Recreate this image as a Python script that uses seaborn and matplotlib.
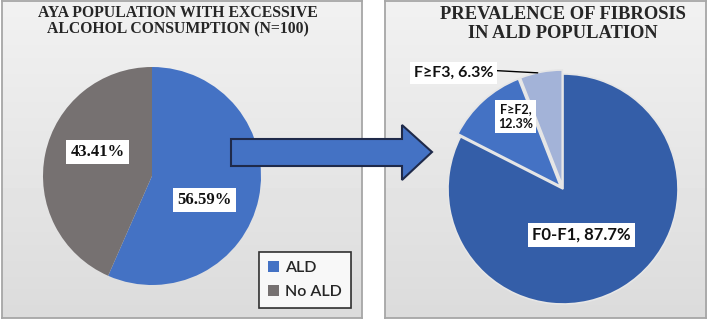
import numpy as np
import matplotlib
matplotlib.use("Agg")
import matplotlib.pyplot as plt
import seaborn as sns
from matplotlib.patches import Polygon

# data
aya_labels = ["ALD", "No ALD"]
aya_pct = [56.59, 43.41]
fib_labels = ["F0-F1", "F\u2265F2", "F\u2265F3"]
fib_pct = [87.7, 12.3, 6.3]

W, H = 708, 320
sns.set_theme(style="white")
plt.rcParams["font.family"] = ["Lato", "DejaVu Sans"]

aya_colors = ["#4472C4", "#767171"]
fib_colors = ["#345EA8", "#4472C4", "#A3B3D8"]
serif = ["Liberation Serif", "DejaVu Serif"]
sans = ["Lato", "DejaVu Sans"]


def px_axes(fig, x0, y0, x1, y1):
    """axes from pixel box (top-left origin)"""
    return fig.add_axes([x0 / W, 1 - y1 / H, (x1 - x0) / W, (y1 - y0) / H])


def panel(fig, x0, y0, x1, y1):
    ax = px_axes(fig, x0, y0, x1, y1)
    grad = np.linspace(0.945, 0.86, 100).reshape(-1, 1)
    ax.imshow(grad, cmap="gray", vmin=0, vmax=1, aspect="auto",
              extent=(0, 1, 0, 1))
    ax.set_xticks([])
    ax.set_yticks([])
    for s in ax.spines.values():
        s.set_color("#A6A6A6")
        s.set_linewidth(1.3)
    return ax


def pie_axes(fig, cx, cy, r, pad=1.3):
    ax = px_axes(fig, cx - r * pad, cy - r * pad, cx + r * pad, cy + r * pad)
    return ax


def box_text(ax, x, y, s, size, family, ha="center"):
    ax.text(x, y, s, ha=ha, va="center", fontsize=size, fontweight="bold",
            family=family, color="#111111",
            bbox=dict(boxstyle="square,pad=0.25", fc="white", ec="none"))


fig = plt.figure(figsize=(W / 100, H / 100), dpi=100)
fig.patch.set_facecolor("white")

# left panel
panel(fig, 2, 1, 362, 318)
fig.text(178 / W, 1 - 21 / H,
         "AYA POPULATION WITH EXCESSIVE\nALCOHOL CONSUMPTION (N=100)",
         ha="center", va="center", fontsize=11.3, fontweight="bold",
         family=serif, color="#262626", linespacing=1.05)

ax1 = pie_axes(fig, 152, 176, 109)
wedges1, _ = ax1.pie(aya_pct, colors=aya_colors, startangle=90,
                     counterclock=False, radius=1,
                     wedgeprops=dict(linewidth=0))
ax1.set_xlim(-1.3, 1.3)
ax1.set_ylim(-1.3, 1.3)
ax1.set_aspect("equal")
box_text(ax1, 0.48, -0.22, f"{aya_pct[0]:.2f}%", 12, serif)
box_text(ax1, -0.50, 0.22, f"{aya_pct[1]:.2f}%", 12, serif)

leg = fig.legend(wedges1, aya_labels, loc="center",
                 bbox_to_anchor=(305 / W, 1 - 280 / H),
                 frameon=True, fancybox=False, handlelength=0.7,
                 handleheight=0.7, handletextpad=0.4, labelspacing=0.65,
                 borderpad=0.55,
                 prop=dict(size=11.5, family=sans, weight="semibold"))
leg.get_frame().set_edgecolor("black")
leg.get_frame().set_linewidth(1.2)

# right panel
panel(fig, 385, 1, 706, 318)
fig.text(563 / W, 1 - 24 / H, "PREVALENCE OF FIBROSIS\nIN ALD POPULATION",
         ha="center", va="center", fontsize=13.3, fontweight="bold",
         family=serif, color="#262626", linespacing=1.15)

ax2 = pie_axes(fig, 563, 189, 115)
ax2.pie(fib_pct, colors=fib_colors, startangle=90, counterclock=False,
        radius=1, explode=[0, 0.035, 0.035],
        wedgeprops=dict(linewidth=1.2, edgecolor="#E6E6E6"))
ax2.set_xlim(-1.3, 1.3)
ax2.set_ylim(-1.3, 1.3)
ax2.set_aspect("equal")
box_text(ax2, 0.16, -0.40, f"{fib_labels[0]}, {fib_pct[0]}%", 12, sans)
box_text(ax2, -0.41, 0.63, f"{fib_labels[1]},\n{fib_pct[1]}%", 9, sans)
ax2.plot([-0.59, -0.22], [1.03, 1.01], color="black", lw=1, clip_on=False)
box_text(ax2, -0.95, 1.01, f"{fib_labels[2]}, {fib_pct[2]}%", 11.5, sans)

# arrow between panels (figure pixels)
arrow_px = [(231, 139), (402, 139), (402, 125), (432, 152), (402, 180),
            (402, 166), (231, 166)]
fig.patches.append(Polygon([(x / W, 1 - y / H) for x, y in arrow_px],
                           closed=True, transform=fig.transFigure,
                           fc="#4472C4", ec="#1F2A4A", lw=1.5, zorder=10))

fig.savefig("out.png", dpi=100)
